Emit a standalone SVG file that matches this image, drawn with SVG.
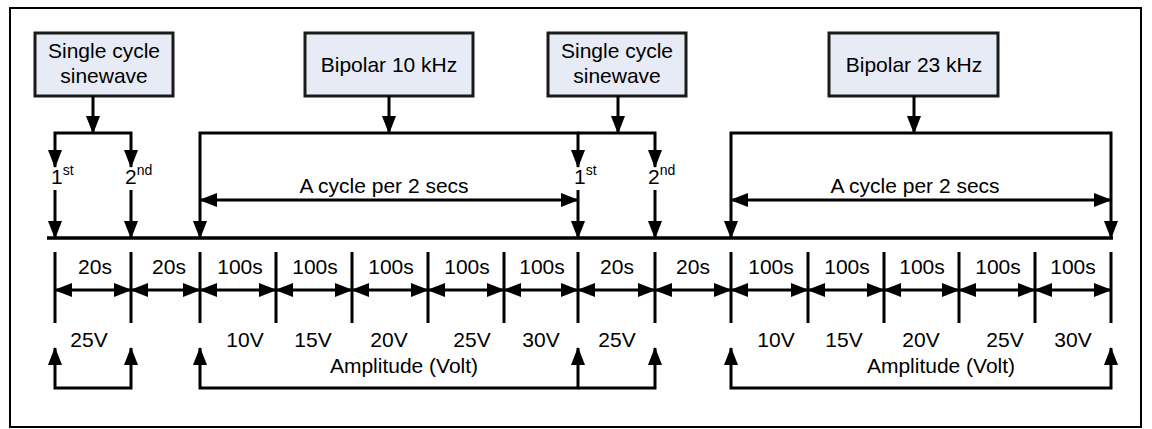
<svg xmlns="http://www.w3.org/2000/svg" width="1152" height="429" viewBox="0 0 1152 429">
<style>
text{font-family:"Liberation Sans",Arial,sans-serif;fill:#000}
.t{font-size:21px;text-anchor:middle}
.sup{font-size:14px}
.box{fill:#E6EBF5;stroke:#1a1a1a;stroke-width:3}
.ln{fill:none;stroke:#000;stroke-width:3}
.a{marker-end:url(#ah)}
.aa{marker-start:url(#ah);marker-end:url(#ah)}
</style>
<defs>
<marker id="ah" viewBox="0 0 18 14" refX="17" refY="7" markerWidth="18" markerHeight="14" markerUnits="userSpaceOnUse" orient="auto-start-reverse">
<path d="M0,0 L18,7 L0,14 Z" fill="#000"/>
</marker>
</defs>
<rect x="10" y="8" width="1131" height="419" fill="#fff" stroke="#000" stroke-width="2"/>

<g id="node-sine1">
<rect class="box" x="35" y="33" width="138" height="63"/>
<text class="t" x="104" y="58">Single cycle</text>
<text class="t" x="104" y="83">sinewave</text>
</g>
<g id="node-bipolar10">
<rect class="box" x="305" y="33" width="168" height="63"/>
<text class="t" x="389" y="72">Bipolar 10 kHz</text>
</g>
<g id="node-sine2">
<rect class="box" x="548" y="33" width="138" height="63"/>
<text class="t" x="617" y="58">Single cycle</text>
<text class="t" x="617" y="83">sinewave</text>
</g>
<g id="node-bipolar23">
<rect class="box" x="829" y="33" width="169" height="63"/>
<text class="t" x="914" y="72">Bipolar 23 kHz</text>
</g>

<g id="connectors">
<!-- from boxes -->
<path class="ln a" d="M93,96 V133"/>
<path class="ln a" d="M389,96 V133"/>
<path class="ln a" d="M618,96 V133"/>
<path class="ln a" d="M914,96 V133"/>
<!-- brackets -->
<path class="ln aa" d="M55,167 V133 H131 V167"/>
<path class="ln aa" d="M200,238 V133 H578 V167"/>
<path class="ln a" d="M578,133 H655 V167"/>
<path class="ln aa" d="M731,238 V133 H1111 V238"/>
<!-- lower halves of 1st/2nd -->
<path class="ln a" d="M55,190 V238"/>
<path class="ln a" d="M131,190 V238"/>
<path class="ln a" d="M578,190 V238"/>
<path class="ln a" d="M655,190 V238"/>
<!-- cycle arrows -->
<path class="ln aa" d="M200,200 H578"/>
<path class="ln aa" d="M731,200 H1111"/>
<!-- axis -->
<path d="M47,238 H1113" stroke="#000" stroke-width="3.5" fill="none"/>
<!-- ticks -->
<path class="ln" d="M55,252 V323 M131,252 V323 M200,252 V323 M276,252 V323 M352,252 V323 M428,252 V323 M504,252 V323 M578,252 V323 M655,252 V323 M731,252 V323 M808,252 V323 M884,252 V323 M959,252 V323 M1035,252 V323 M1111,252 V323"/>
<!-- duration arrows -->
<path class="ln aa" d="M55,290 H131"/>
<path class="ln aa" d="M131,290 H200"/>
<path class="ln aa" d="M200,290 H276"/>
<path class="ln aa" d="M276,290 H352"/>
<path class="ln aa" d="M352,290 H428"/>
<path class="ln aa" d="M428,290 H504"/>
<path class="ln aa" d="M504,290 H578"/>
<path class="ln aa" d="M578,290 H655"/>
<path class="ln aa" d="M655,290 H731"/>
<path class="ln aa" d="M731,290 H808"/>
<path class="ln aa" d="M808,290 H884"/>
<path class="ln aa" d="M884,290 H959"/>
<path class="ln aa" d="M959,290 H1035"/>
<path class="ln aa" d="M1035,290 H1111"/>
<!-- amplitude brackets -->
<path class="ln aa" d="M55,348 V388 H131 V348"/>
<path class="ln aa" d="M200,348 V388 H578 V348"/>
<path class="ln a" d="M578,388 H655 V348"/>
<path class="ln aa" d="M731,348 V388 H1111 V348"/>
</g>

<g id="labels">
<text x="51" y="184" style="font-size:21px">1<tspan class="sup" dy="-9">st</tspan></text>
<text x="125" y="184" style="font-size:21px">2<tspan class="sup" dy="-9">nd</tspan></text>
<text x="574" y="184" style="font-size:21px">1<tspan class="sup" dy="-9">st</tspan></text>
<text x="648" y="184" style="font-size:21px">2<tspan class="sup" dy="-9">nd</tspan></text>
<text class="t" x="384" y="193">A cycle per 2 secs</text>
<text class="t" x="915" y="193">A cycle per 2 secs</text>

<text class="t" x="95" y="274">20s</text>
<text class="t" x="169" y="274">20s</text>
<text class="t" x="240" y="274">100s</text>
<text class="t" x="315" y="274">100s</text>
<text class="t" x="391" y="274">100s</text>
<text class="t" x="467" y="274">100s</text>
<text class="t" x="542" y="274">100s</text>
<text class="t" x="617" y="274">20s</text>
<text class="t" x="693" y="274">20s</text>
<text class="t" x="771" y="274">100s</text>
<text class="t" x="847" y="274">100s</text>
<text class="t" x="922" y="274">100s</text>
<text class="t" x="998" y="274">100s</text>
<text class="t" x="1073" y="274">100s</text>

<text class="t" x="89" y="347">25V</text>
<text class="t" x="245" y="347">10V</text>
<text class="t" x="313" y="347">15V</text>
<text class="t" x="389" y="347">20V</text>
<text class="t" x="472" y="347">25V</text>
<text class="t" x="541" y="347">30V</text>
<text class="t" x="617" y="347">25V</text>
<text class="t" x="776" y="347">10V</text>
<text class="t" x="844" y="347">15V</text>
<text class="t" x="921" y="347">20V</text>
<text class="t" x="1005" y="347">25V</text>
<text class="t" x="1073" y="347">30V</text>

<text class="t" x="404" y="373">Amplitude (Volt)</text>
<text class="t" x="941" y="373">Amplitude (Volt)</text>
</g>
</svg>
